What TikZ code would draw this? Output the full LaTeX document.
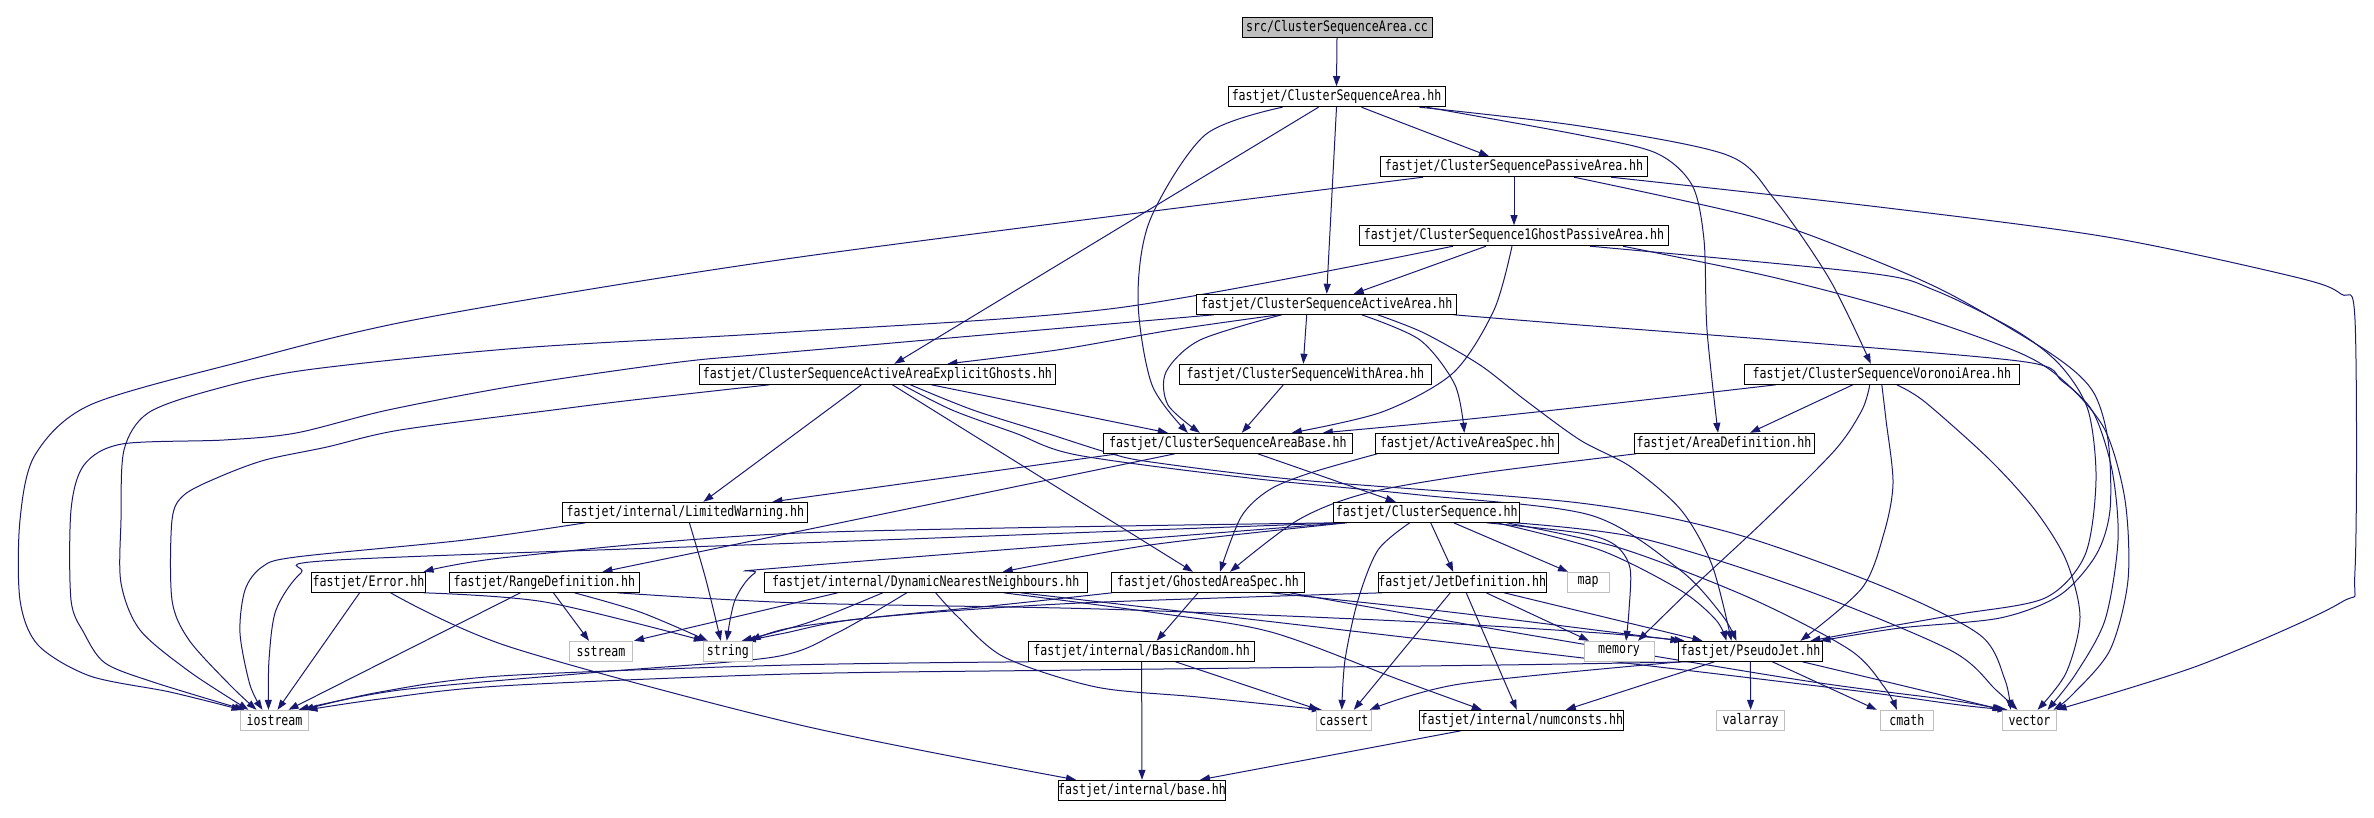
\documentclass[tikz,border=0pt]{standalone}
\usepackage{fontspec}
\usetikzlibrary{arrows.meta}
\newfontfamily\lblfont[FakeStretch=0.8]{DejaVu Sans Mono}
\definecolor{edgeblue}{RGB}{25,25,112}
\definecolor{sysgray}{RGB}{191,191,191}
\pgfdeclarelayer{bg}
\pgfsetlayers{bg,main}
\tikzset{
  nd/.style={draw=black, fill=white, line width=1pt, minimum height=20pt, inner sep=0pt,
    font=\lblfont\fontsize{14.5}{15}\selectfont},
  sys/.style={nd, draw=sysgray},
  e/.style={draw=edgeblue, line width=1pt, -{Triangle[length=10pt,width=7pt]}},
  sm/.style={smooth, tension=0.5}
}
\begin{document}
\begin{tikzpicture}[x=1pt,y=-1pt]
\useasboundingbox (0,0) rectangle (2374,817);
\node[nd, fill=sysgray, minimum width=190pt] (src) at (1337,27.5) {src/ClusterSequenceArea.cc};
\node[nd, minimum width=217pt] (csa) at (1336.5,96.7) {fastjet/ClusterSequenceArea.hh};
\node[nd, minimum width=266.5pt] (passive) at (1514,166.7) {fastjet/ClusterSequencePassiveArea.hh};
\node[nd, minimum width=309.4pt] (ghost1) at (1514,235.7) {fastjet/ClusterSequence1GhostPassiveArea.hh};
\node[nd, minimum width=260pt] (active) at (1326.7,304.3) {fastjet/ClusterSequenceActiveArea.hh};
\node[nd, minimum width=355.8pt] (explicit) at (877.4,374.3) {fastjet/ClusterSequenceActiveAreaExplicitGhosts.hh};
\node[nd, minimum width=252pt] (witharea) at (1305.3,374.3) {fastjet/ClusterSequenceWithArea.hh};
\node[nd, minimum width=275pt] (voronoi) at (1881.8,374.3) {fastjet/ClusterSequenceVoronoiArea.hh};
\node[nd, minimum width=249pt] (areabase) at (1227.8,443.3) {fastjet/ClusterSequenceAreaBase.hh};
\node[nd, minimum width=183pt] (aaspec) at (1467.3,443.3) {fastjet/ActiveAreaSpec.hh};
\node[nd, minimum width=180pt] (areadef) at (1724,443.3) {fastjet/AreaDefinition.hh};
\node[nd, minimum width=245pt] (limwarn) at (685.4,512.3) {fastjet/internal/LimitedWarning.hh};
\node[nd, minimum width=185.7pt] (cs) at (1426.7,512.3) {fastjet/ClusterSequence.hh};
\node[nd, minimum width=113.8pt] (error) at (368.6,582.3) {fastjet/Error.hh};
\node[nd, minimum width=189.8pt] (rangedef) at (544.4,582.3) {fastjet/RangeDefinition.hh};
\node[nd, minimum width=322.7pt] (dnn) at (925.7,582.3) {fastjet/internal/DynamicNearestNeighbours.hh};
\node[nd, minimum width=193.4pt] (ghosted) at (1208,582.3) {fastjet/GhostedAreaSpec.hh};
\node[nd, minimum width=163.8pt] (jetdef) at (1462.2,582.3) {fastjet/JetDefinition.hh};
\node[sys, minimum width=42pt] (map) at (1588,582.3) {map};
\node[sys, minimum width=63.3pt] (sstream) at (601,651.3) {sstream};
\node[sys, minimum width=48.4pt] (string) at (727.8,651.3) {string};
\node[nd, minimum width=226.5pt] (basicrandom) at (1141.6,651.3) {fastjet/internal/BasicRandom.hh};
\node[sys, minimum width=70pt] (memory) at (1619,651.3) {memory};
\node[nd, minimum width=143.8pt] (pseudojet) at (1750.4,651.3) {fastjet/PseudoJet.hh};
\node[sys, minimum width=68.4pt] (iostream) at (274.5,720.3) {iostream};
\node[sys, minimum width=54.6pt] (cassert) at (1343.8,720.3) {cassert};
\node[nd, minimum width=204.3pt] (numconsts) at (1521.8,720.3) {fastjet/internal/numconsts.hh};
\node[sys, minimum width=68pt] (valarray) at (1750.6,720.3) {valarray};
\node[sys, minimum width=53.6pt] (cmath) at (1906.8,720.3) {cmath};
\node[sys, minimum width=54pt] (vector) at (2029.5,720.3) {vector};
\node[nd, minimum width=163.3pt] (base) at (1142,790.3) {fastjet/internal/base.hh};

\begin{pgfonlayer}{bg}
% src / csa
\draw[e] (src.south) -- (csa.north);
\draw[e] plot[sm] coordinates {([xshift=-54pt]csa.south) (1205,135) (1150,220) (1138,300) (1152,385) ([xshift=-40pt]areabase.north)};
\draw[e] ([xshift=-18pt]csa.south) -- ([xshift=17pt]explicit.north);
\draw[e] (csa.south) -- (active.north);
\draw[e] plot[sm] coordinates {([xshift=25pt]csa.south) (1405,124) ([xshift=-25pt]passive.north)};
\draw[e] plot[sm] coordinates {([xshift=83pt]csa.south) (1580,126) (1727,155) (1775,200) (1830,280) ([xshift=-11pt]voronoi.north)};
\draw[e] plot[sm] coordinates {([xshift=90pt]csa.south) (1580,135) (1656,153) (1692,185) (1704,240) (1707,330) ([xshift=-6pt]areadef.north)};
% passive
\draw[e] (passive.south) -- (ghost1.north);
\draw[e] plot[sm] coordinates {([xshift=-91pt]passive.south) (800,257) (424,318) (240,362) (90,405) (35,455) (20,520) (20,600) (38,645) (90,676) (170,692) ([xshift=-33pt]iostream.north)};
\draw[e] plot[sm] coordinates {([xshift=60pt]passive.south) (1754,217) (1856,253) (1948,293) (2050,353) (2092,390) (2108,440) (2110,510) (2096,555) (2060,595) (2000,618) (1900,628) ([xshift=70pt]pseudojet.north)};
\draw[e] plot[sm] coordinates {([xshift=97pt]passive.south) (1879,207) (2107,237) (2295,277) (2341,294) (2355,320) (2355,570) (2340,603) (2200,665) ([xshift=27pt]vector.north)};
% ghost1
\draw[e] ([xshift=-28pt]ghost1.south) -- ([xshift=27pt]active.north);
\draw[e] plot[sm] coordinates {([xshift=-2pt]ghost1.south) (1494,310) (1453,373) (1382,412) ([xshift=64pt]areabase.north)};
\draw[e] plot[sm] coordinates {([xshift=-61pt]ghost1.south) (1117,308) (790,332) (520,348) (306,370) (212,390) (148,413) (124,450) (121,520) (121,583) (140,630) (190,672) ([xshift=-26pt]iostream.north)};
\draw[e] plot[sm] coordinates {([xshift=76pt]ghost1.south) (1868,273) (1934,290) (2015,330) (2060,365) (2088,410) (2096,480) (2085,555) (2045,598) (1960,614) (1880,628) ([xshift=60pt]pseudojet.north)};
\draw[e] plot[sm] coordinates {([xshift=109pt]ghost1.south) (1772,277) (1904,312) (2020,353) (2066,383) (2105,430) (2125,500) (2128,580) (2110,650) (2072,695) ([xshift=24pt]vector.north)};
% active
\draw[e] plot[sm] coordinates {([xshift=-48pt]active.south) (1172,330) (1057,350) ([xshift=70pt]explicit.north)};
\draw[e] plot[sm] coordinates {([xshift=-45pt]active.south) (1200,340) (1166,372) (1168,405) ([xshift=-28pt]areabase.north)};
\draw[e] ([xshift=-20pt]active.south) -- ([xshift=-2pt]witharea.north);
\draw[e] plot[sm] coordinates {([xshift=35pt]active.south) (1420,340) (1455,385) ([xshift=-3pt]aaspec.north)};
\draw[e] plot[sm] coordinates {([xshift=51pt]active.south) (1424,333) (1480,365) (1525,400) (1580,440) (1631,467) (1681,510) (1712,565) ([xshift=-19pt]pseudojet.north)};
\draw[e] plot[sm] coordinates {([xshift=-113pt]active.south) (790,352) (680,362) (520,385) (388,410) (296,433) (224,440) (122,444) (84,465) (71,510) (71,600) (84,633) (105,663) (153,682) ([xshift=-30pt]iostream.north)};
\draw[e] plot[sm] coordinates {([xshift=127pt]active.south) (1580,325) (1800,342) (2026,362) (2062,381) (2093,412) (2112,470) (2118,540) (2105,620) (2075,675) ([xshift=18pt]vector.north)};
% explicit ghosts
\draw[e] ([xshift=-16pt]explicit.south) -- ([xshift=18pt]limwarn.north);
\draw[e] ([xshift=15pt]explicit.south) -- ([xshift=-15pt]ghosted.north);
\draw[e] ([xshift=54pt]explicit.south) -- ([xshift=-60pt]areabase.north);
\draw[e] plot[sm] coordinates {([xshift=-108pt]explicit.south) (633,400) (553,410) (400,430) (327,447) (265,460) (219,477) (184,495) (172,520) (172,600) (189,640) (230,685) ([xshift=-18pt]iostream.north)};
\draw[e] plot[sm] coordinates {([xshift=25pt]explicit.south) (952,410) (1015,433) (1077,455) (1249,478) (1420,495) (1590,515) (1680,570) (1722,615) ([xshift=-14pt]pseudojet.north)};
\draw[e] plot[sm] coordinates {([xshift=33pt]explicit.south) (973,410) (1046,433) (1109,453) (1151,462) (1300,480) (1580,503) (1732,533) (1884,587) (1980,635) (2005,680) ([xshift=-19pt]vector.north)};
% with area / voronoi
\draw[e] ([xshift=-22pt]witharea.south) -- ([xshift=14pt]areabase.north);
\draw[e] plot[sm] coordinates {([xshift=-106pt]voronoi.south) (1600,405) (1460,420) ([xshift=95pt]areabase.north)};
\draw[e] ([xshift=-29pt]voronoi.south) -- ([xshift=26pt]areadef.north);
\draw[e] plot[sm] coordinates {([xshift=-12pt]voronoi.south) (1862,410) (1835,450) (1765,520) (1690,590) ([xshift=19pt]memory.north)};
\draw[e] plot[sm] coordinates {(voronoi.south) (1886,420) (1893,483) (1884,533) (1862,588) ([xshift=50pt]pseudojet.north)};
\draw[e] plot[sm] coordinates {([xshift=15pt]voronoi.south) (1925,402) (1990,460) (2035,510) (2066,560) (2080,617) (2066,673) ([xshift=8pt]vector.north)};
% area base
\draw[e] ([xshift=30pt]areabase.south) -- ([xshift=-31pt]cs.north);
\draw[e] ([xshift=-110pt]areabase.south) -- ([xshift=87pt]limwarn.north);
\draw[e] ([xshift=-53pt]areabase.south) -- ([xshift=58pt]rangedef.north);
\draw[e] plot[sm] coordinates {([xshift=-90pt]aaspec.south) (1310,473) (1269,490) (1241,517) ([xshift=12pt]ghosted.north)};
\draw[e] plot[sm] coordinates {([xshift=-88pt]areadef.south) (1482,473) (1367,493) (1298,520) ([xshift=22pt]ghosted.north)};
% cluster sequence
\draw[e] plot[sm] coordinates {([xshift=-80pt]cs.south) (1150,545) ([xshift=77pt]dnn.north)};
\draw[e] plot[sm] coordinates {([xshift=-88pt]cs.south) (800,533) (510,557) ([xshift=55pt]error.north)};
\draw[e] plot[sm] coordinates {([xshift=-84pt]cs.south) (800,543) (337,560) (301,573) (276,610) (269,660) ([xshift=-6pt]iostream.north)};
\draw[e] plot[sm] coordinates {([xshift=-82pt]cs.south) (790,567) (755,573) (735,600) ([xshift=-1pt]string.north)};
\draw[e] plot[sm] coordinates {([xshift=-17pt]cs.south) (1378,550) (1358,600) (1345,660) ([xshift=-2pt]cassert.north)};
\draw[e] ([xshift=4pt]cs.south) -- ([xshift=-9pt]jetdef.north);
\draw[e] ([xshift=27pt]cs.south) -- ([xshift=-20pt]map.north);
\draw[e] plot[sm] coordinates {([xshift=60pt]cs.south) (1580,533) (1615,545) (1630,568) (1629,610) ([xshift=7pt]memory.north)};
\draw[e] plot[sm] coordinates {([xshift=70pt]cs.south) (1600,550) (1680,590) (1716,620) ([xshift=-24pt]pseudojet.north)};
\draw[e] plot[sm] coordinates {([xshift=80pt]cs.south) (1620,548) (1750,598) (1850,650) (1885,688) ([xshift=-10pt]cmath.north)};
\draw[e] plot[sm] coordinates {([xshift=88pt]cs.south) (1640,538) (1800,588) (1950,650) (1996,690) ([xshift=-12pt]vector.north)};
% jet definition
\draw[e] ([xshift=-12pt]jetdef.south) -- ([xshift=10pt]cassert.north);
\draw[e] ([xshift=4pt]jetdef.south) -- ([xshift=-5pt]numconsts.north);
\draw[e] ([xshift=24pt]jetdef.south) -- ([xshift=-30pt]memory.north);
\draw[e] ([xshift=42pt]jetdef.south) -- ([xshift=-48pt]pseudojet.north);
\draw[e] plot[sm] coordinates {([xshift=-80pt]jetdef.south) (1080,603) (900,615) (790,628) ([xshift=23pt]string.north)};
% ghosted area spec
\draw[e] ([xshift=-10pt]ghosted.south) -- ([xshift=15pt]basicrandom.north);
\draw[e] plot[sm] coordinates {([xshift=63pt]ghosted.south) (1450,612) ([xshift=-70pt]pseudojet.north)};
\draw[e] plot[sm] coordinates {([xshift=82pt]ghosted.south) (1500,630) (1800,680) (1950,700) ([xshift=-25pt]vector.north)};
\draw[e] plot[sm] coordinates {([xshift=-96pt]ghosted.south) (1000,605) (850,620) (785,633) ([xshift=18pt]string.north)};
% basic random, numconsts
\draw[e] (basicrandom.south) -- (base.north);
\draw[e] ([xshift=34pt]basicrandom.south) -- ([xshift=-25pt]cassert.north);
\draw[e] plot[sm] coordinates {([xshift=-113pt]basicrandom.south) (790,665) (500,676) (380,692) ([xshift=29pt]iostream.north)};
\draw[e] ([xshift=-61pt]numconsts.south) -- ([xshift=58pt]base.north);
% error, range definition
\draw[e] ([xshift=-9pt]error.south) -- ([xshift=3pt]iostream.north);
\draw[e] plot[sm] coordinates {([xshift=55pt]error.south) (545,602) ([xshift=-24pt]string.north)};
\draw[e] plot[sm] coordinates {([xshift=22pt]error.south) (510,647) (800,725) ([xshift=-66pt]base.north)};
\draw[e] ([xshift=-24pt]rangedef.south) -- ([xshift=14pt]iostream.north);
\draw[e] ([xshift=9pt]rangedef.south) -- ([xshift=-12pt]sstream.north);
\draw[e] plot[sm] coordinates {([xshift=30pt]rangedef.south) (640,612) ([xshift=-20pt]string.north)};
\draw[e] plot[sm] coordinates {([xshift=73pt]rangedef.south) (800,603) (1100,609) (1400,621) (1600,633) ([xshift=-66pt]pseudojet.north)};
% limited warning
\draw[e] plot[sm] coordinates {([xshift=-100pt]limwarn.south) (465,540) (296,557) (262,567) (245,590) (240,633) (250,685) ([xshift=-12pt]iostream.north)};
\draw[e] plot[sm] coordinates {([xshift=4pt]limwarn.south) (706,580) ([xshift=-7pt]string.north)};
% dynamic nearest neighbours
\draw[e] ([xshift=-88pt]dnn.south) -- ([xshift=33pt]sstream.north);
\draw[e] plot[sm] coordinates {([xshift=-43pt]dnn.south) (810,622) ([xshift=14pt]string.north)};
\draw[e] plot[sm] coordinates {([xshift=-19pt]dnn.south) (837,633) (774,657) (600,672) (400,690) ([xshift=24pt]iostream.north)};
\draw[e] plot[sm] coordinates {([xshift=10pt]dnn.south) (958,617) (1004,657) (1096,687) (1198,697) ([xshift=-22pt]cassert.north)};
\draw[e] plot[sm] coordinates {([xshift=78pt]dnn.south) (1150,612) (1271,632) (1400,680) ([xshift=-40pt]numconsts.north)};
\draw[e] plot[sm] coordinates {([xshift=95pt]dnn.south) (1300,625) (1600,660) (1850,690) (1960,705) ([xshift=-22pt]vector.north)};
% pseudojet
\draw[e] (pseudojet.south) -- (valarray.north);
\draw[e] ([xshift=22pt]pseudojet.south) -- ([xshift=-30pt]cmath.north);
\draw[e] plot[sm] coordinates {([xshift=52pt]pseudojet.south) (1900,685) ([xshift=-27pt]vector.north)};
\draw[e] ([xshift=-36pt]pseudojet.south) -- ([xshift=44pt]numconsts.north);
\draw[e] plot[sm] coordinates {([xshift=-70pt]pseudojet.south) (1460,684) ([xshift=26pt]cassert.north)};
\draw[e] plot[sm] coordinates {([xshift=-60pt]pseudojet.south) (1500,665) (1080,670) (790,674) (500,686) (380,699) ([xshift=33pt]iostream.north)};
\end{pgfonlayer}
\end{tikzpicture}
\end{document}
